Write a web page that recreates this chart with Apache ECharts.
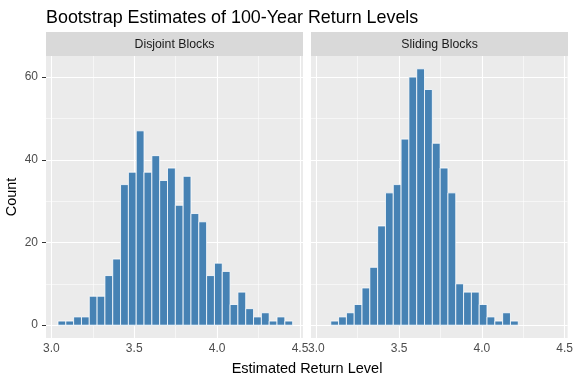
<!DOCTYPE html>
<html>
<head>
<meta charset="utf-8">
<script src="https://cdn.jsdelivr.net/npm/echarts@6/dist/echarts.min.js"></script>
<style>
html,body{margin:0;padding:0;background:#fff;}
#chart{width:576px;height:384px;}
</style>
</head>
<body>
<div id="chart"></div>
<script>
// ---- data ----
const titleText = 'Bootstrap Estimates of 100-Year Return Levels';
const panelNames = ['Disjoint Blocks', 'Sliding Blocks'];
const xTitle = 'Estimated Return Level';
const yTitle = 'Count';
const binOrigin = 3.0403;   // left edge of first histogram bin
const binWidth = 0.04718;   // shared bin width
const disjointFirstBin = 0;
const disjointCounts = [1,1,2,2,7,7,12,16,34,37,47,37,41,35,38,29,36,27,25,12,15,13,5,8,4,2,3,1,2,1];
const slidingFirstBin = 1;
const slidingCounts = [1,2,3,5,9,14,24,32,34,45,60,62,57,44,38,32,10,8,8,5,2,1,3,1];
const xTicks = [3.0, 3.5, 4.0, 4.5];
const xMinorTicks = [3.25, 3.75, 4.25];
const yTicks = [0, 20, 40, 60];
const yMinorTicks = [10, 30, 50];

// ---- build ----
function binData(firstBin, counts) {
  return counts.map((c, i) => {
    const s = binOrigin + (firstBin + i) * binWidth;
    return [s, s + binWidth, c];
  });
}
const FONT = '"Liberation Sans", Arial, sans-serif';
const panelLeft = [46, 311];
const panelWidth = 257;
const gridTop = 56;
const gridBottom = 46;

function gridLines() {
  const major = {color: '#FFFFFF', width: 1.1, type: 'solid', opacity: 1};
  const minor = {color: '#FFFFFF', width: 0.55, type: 'solid', opacity: 1};
  const d = [];
  yMinorTicks.forEach(v => d.push({yAxis: v, lineStyle: minor}));
  xMinorTicks.forEach(v => d.push({xAxis: v, lineStyle: minor}));
  yTicks.forEach(v => d.push({yAxis: v, lineStyle: major}));
  xTicks.forEach(v => d.push({xAxis: v, lineStyle: major}));
  return {
    silent: true, symbol: ['none', 'none'], label: {show: false},
    animation: false, z: 1, emphasis: {disabled: true}, data: d
  };
}

function renderBar(params, api) {
  const x0 = api.value(0), x1 = api.value(1), y = api.value(2);
  const p0 = api.coord([x0, y]);
  const p1 = api.coord([x1, 0]);
  return {
    type: 'rect',
    shape: {x: p0[0], y: p0[1], width: p1[0] - p0[0], height: p1[1] - p0[1]},
    style: {fill: '#4682B4', stroke: '#FFFFFF', lineWidth: 0.8}
  };
}

const grids = panelLeft.map(l => ({
  left: l, width: panelWidth, top: gridTop, bottom: gridBottom,
  show: true, backgroundColor: '#EBEBEB', borderWidth: 0, containLabel: false
}));

const xAxes = [0, 1].map(i => ({
  type: 'value', gridIndex: i, min: 2.968, max: 4.518,
  axisLine: {show: false},
  splitLine: {show: false},
  axisTick: {show: true, length: 4, customValues: xTicks, lineStyle: {color: '#333333', width: 1}},
  axisLabel: {show: true, customValues: xTicks, margin: 5, color: '#4D4D4D', fontSize: 12, fontFamily: FONT,
    formatter: v => v.toFixed(1)}
}));

const yAxes = [0, 1].map(i => ({
  type: 'value', gridIndex: i, min: -3.1, max: 65.1,
  axisLine: {show: false},
  splitLine: {show: false},
  axisTick: {show: i === 0, length: 4, customValues: yTicks, lineStyle: {color: '#333333', width: 1}},
  axisLabel: {show: i === 0, customValues: yTicks, margin: 8, color: '#4D4D4D', fontSize: 12, fontFamily: FONT},
  name: i === 0 ? yTitle : '',
  nameLocation: 'middle', nameGap: 27, nameRotate: 90,
  nameTextStyle: {color: '#000000', fontSize: 14.5, fontFamily: FONT}
}));

const series = [
  {type: 'custom', xAxisIndex: 0, yAxisIndex: 0, z: 2, renderItem: renderBar,
   data: binData(disjointFirstBin, disjointCounts), encode: {x: [0, 1], y: 2}, markLine: gridLines(), animation: false},
  {type: 'custom', xAxisIndex: 1, yAxisIndex: 1, z: 2, renderItem: renderBar,
   data: binData(slidingFirstBin, slidingCounts), encode: {x: [0, 1], y: 2}, markLine: gridLines(), animation: false}
];

const graphics = [];
panelLeft.forEach((l, i) => {
  graphics.push({type: 'rect', left: l, top: 32, shape: {width: panelWidth, height: 24}, style: {fill: '#D9D9D9'}, silent: true});
  graphics.push({type: 'text', x: l + panelWidth / 2, y: 44.5,
    style: {text: panelNames[i], fill: '#1A1A1A', font: '12.3px ' + FONT, textAlign: 'center', textVerticalAlign: 'middle'}});
});
graphics.push({type: 'text', x: (panelLeft[0] + panelLeft[1] + panelWidth) / 2, y: 369,
  style: {text: xTitle, fill: '#000000', font: '14.5px ' + FONT, textAlign: 'center', textVerticalAlign: 'middle'}});

const chart = echarts.init(document.getElementById('chart'), null, {renderer: 'canvas'});
chart.setOption({
  animation: false,
  backgroundColor: '#FFFFFF',
  title: {text: titleText, left: 41, top: 4,
    textStyle: {color: '#000000', fontSize: 17.9, fontWeight: 'normal', fontFamily: FONT}},
  grid: grids,
  xAxis: xAxes,
  yAxis: yAxes,
  series: series,
  graphic: graphics
});
</script>
</body>
</html>
